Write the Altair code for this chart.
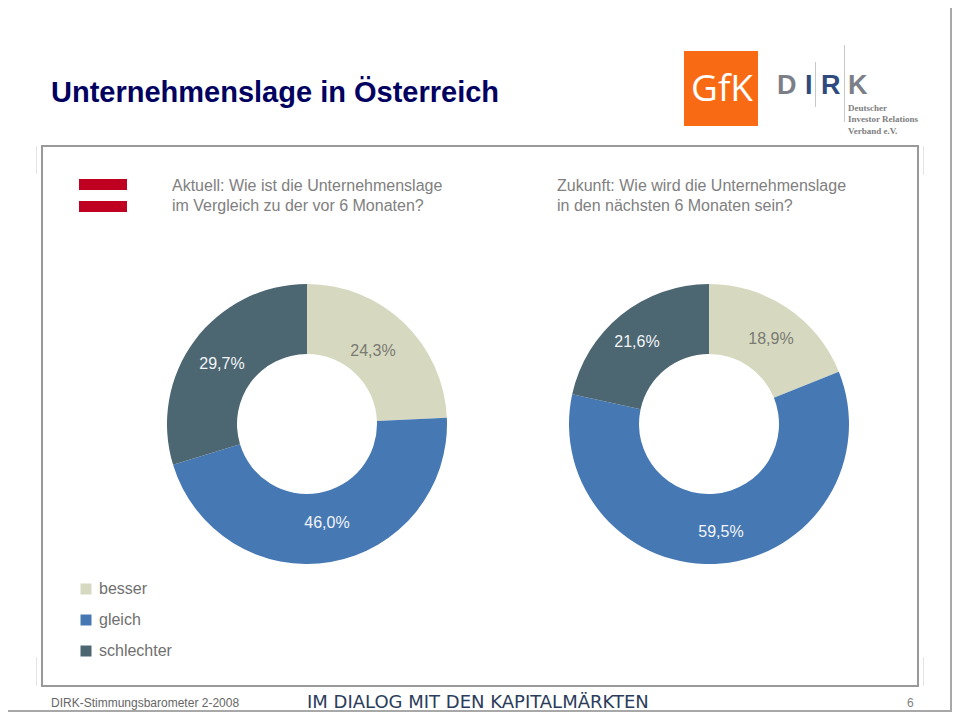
import altair as alt
import pandas as pd

# ---- data
CATEGORIES = ["besser", "gleich", "schlechter"]
AKTUELL = [24.3, 46.0, 29.7]
ZUKUNFT = [18.9, 59.5, 21.6]
AKTUELL_LABELS = ["24,3%", "46,0%", "29,7%"]
ZUKUNFT_LABELS = ["18,9%", "59,5%", "21,6%"]
COLORS = ["#D6D9C0", "#4678B4", "#4C6672"]

W, H = 944, 704
OFF = 8  # page margin: reference pixel -> chart pixel


def X(v):
    return v - OFF


def Y(v):
    return v - OFF


def text(s, x, y, size=16, color="#666666", font="Liberation Sans", weight="normal", align="left"):
    return alt.Chart(pd.DataFrame({"t": [s]})).mark_text(
        font=font, fontSize=size, color=color, fontWeight=weight, align=align, baseline="alphabetic"
    ).encode(x=alt.value(X(x)), y=alt.value(Y(y)), text="t:N")


def rect(x, x2, y, y2, color):
    return alt.Chart(pd.DataFrame({"a": [0]})).mark_rect(color=color).encode(
        x=alt.value(X(x)), x2=alt.value(X(x2)), y=alt.value(Y(y)), y2=alt.value(Y(y2))
    )


def donut(values, cx, cy):
    df = pd.DataFrame({"Kategorie": CATEGORIES, "Wert": values, "o": [0, 1, 2]})
    return alt.Chart(df).mark_arc(outerRadius=140, innerRadius=70).encode(
        theta=alt.Theta("Wert:Q", stack=True, scale=alt.Scale(domain=[0, 100])),
        order=alt.Order("o:O"),
        color=alt.Color(
            "Kategorie:N",
            scale=alt.Scale(domain=CATEGORIES, range=COLORS),
            legend=alt.Legend(
                title=None, orient="none", legendX=X(78), legendY=Y(581),
                symbolType="square", symbolSize=121, symbolStrokeWidth=0,
                labelFont="Liberation Sans", labelFontSize=16, labelColor="#707070",
                rowPadding=15, labelOffset=5, symbolOpacity=1,
            ),
        ),
        x=alt.value(X(cx)),
        y=alt.value(Y(cy)),
    )


LIGHT = "#F2F5F7"
MID = "#7A7A72"
FRAME = "#A8A8A8"
layers = [
    # outer frame (top and left lie in the page margin; right and bottom at the page limit)
    rect(950, 952, 8, 712, FRAME),
    rect(8, 952, 710, 712, FRAME),
    # ghost ticks and inner frame
    rect(36, 37, 146, 174, "#E4E4E4"),
    rect(36, 37, 657, 686, "#E4E4E4"),
    rect(923, 924, 146, 175, "#E4E4E4"),
    rect(923, 924, 657, 686, "#E4E4E4"),
    rect(41, 919, 145, 147, "#999999"),
    rect(41, 919, 685, 687, "#999999"),
    rect(41, 43, 145, 687, "#999999"),
    rect(917, 919, 145, 687, "#999999"),
    # flag
    rect(79, 127, 179, 190, "#C00020"),
    rect(79, 127, 201, 212, "#C00020"),
    # GfK logo
    rect(684, 758, 51, 126, "#F96A14"),
    text("GfK", 691, 101, 37, "#FFFFFF", "Open Sans"),
    # DIRK logo
    rect(844, 845, 45, 122, "#C8C8C8"),
    rect(815, 816, 62, 107, "#C8C8C8"),
    text("D", 777, 94, 27, "#7C7F88", "Liberation Sans", "bold"),
    text("I", 805, 94, 27, "#2F4A7C", "Liberation Sans", "bold"),
    text("R", 821, 94, 27, "#2F4A7C", "Liberation Sans", "bold"),
    text("K", 848, 94, 27, "#7C7F88", "Liberation Sans", "bold"),
    text("Deutscher", 848, 111, 9, "#808080", "Liberation Serif", "bold"),
    text("Investor Relations", 848, 122, 9, "#808080", "Liberation Serif", "bold"),
    text("Verband e.V.", 848, 134, 9, "#808080", "Liberation Serif", "bold"),
    # titles
    text("Unternehmenslage in Österreich", 51, 102, 29, "#000060", "Liberation Sans", "bold"),
    text("Aktuell: Wie ist die Unternehmenslage", 172, 191, 16, "#808080"),
    text("im Vergleich zu der vor 6 Monaten?", 172, 211, 16, "#808080"),
    text("Zukunft: Wie wird die Unternehmenslage", 557, 191, 16, "#808080"),
    text("in den nächsten 6 Monaten sein?", 557, 211, 16, "#808080"),
    # donuts
    donut(AKTUELL, 307, 424),
    donut(ZUKUNFT, 709, 424),
    text(AKTUELL_LABELS[0], 373, 356, 16, MID, align="center"),
    text(AKTUELL_LABELS[1], 327, 528, 16, LIGHT, align="center"),
    text(AKTUELL_LABELS[2], 222, 369, 16, LIGHT, align="center"),
    text(ZUKUNFT_LABELS[0], 771, 344, 16, MID, align="center"),
    text(ZUKUNFT_LABELS[1], 721, 537, 16, LIGHT, align="center"),
    text(ZUKUNFT_LABELS[2], 637, 347, 16, LIGHT, align="center"),
    # footer
    text("DIRK-Stimmungsbarometer 2-2008", 51, 707, 12, "#666666"),
    text("IM DIALOG MIT DEN KAPITALMÄRKTEN", 307, 708, 18, "#2B3D5B", "DejaVu Sans"),
    text("6", 907, 707, 12, "#808080"),
]

chart = alt.layer(*layers).properties(
    width=W, height=H, padding=0, autosize=alt.AutoSizeParams(type="none"), background="#FFFFFF"
).configure_view(stroke=None)

chart.save("out.html", embed_options={"renderer": "svg", "actions": False})
